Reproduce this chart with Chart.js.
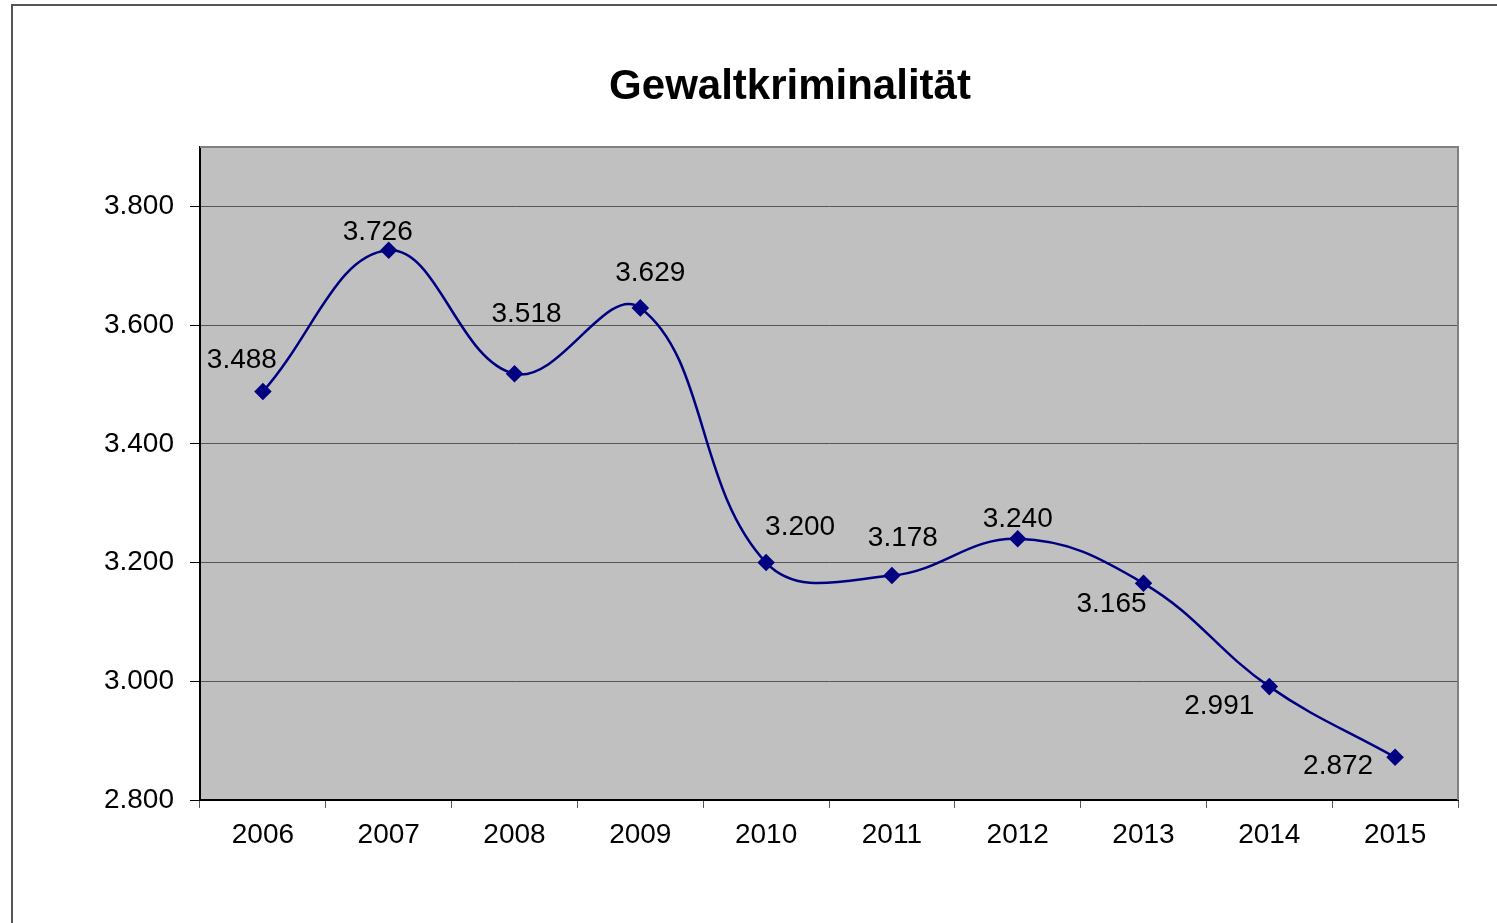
<!DOCTYPE html>
<html>
<head>
<meta charset="utf-8">
<script src="https://cdn.jsdelivr.net/npm/chart.js@4/dist/chart.umd.min.js"></script>
<style>
  html, body { margin: 0; padding: 0; background: #fff; }
  #wrap { width: 1497px; height: 923px; }
</style>
</head>
<body>
<div id="wrap"><canvas id="myChart" width="1497" height="923"></canvas></div>
<script>
var titel = "Gewaltkriminalität";
var jahre = ["2006", "2007", "2008", "2009", "2010", "2011", "2012", "2013", "2014", "2015"];
var faelle = [3488, 3726, 3518, 3629, 3200, 3178, 3240, 3165, 2991, 2872];
var yTicks = [2800, 3000, 3200, 3400, 3600, 3800];

// where Excel put each label, relative to its point
var labelShift = [[-21,-31],[-11,-18],[12,-59],[10,-35],[34,-35],[11,-37],[0,-20],[-32,21],[-50,20],[-57,9]];

var fmt = (v) => v.toLocaleString('de-DE');

var bgPlugin = {
  id: 'bg',
  beforeDraw: function(chart){
    var c = chart.ctx, a = chart.chartArea;
    c.save();
    c.fillStyle = '#fff';
    c.fillRect(0, 0, chart.width, chart.height);
    c.strokeStyle = '#555';
    c.lineWidth = 2;
    c.strokeRect(12, 5, chart.width + 20, chart.height + 20);
    c.fillStyle = '#c0c0c0';
    c.fillRect(a.left, a.top, a.right - a.left, a.bottom - a.top);
    // title, centred on the whole chart box (which runs past the right edge)
    c.fillStyle = '#000';
    c.font = 'bold 42px "Liberation Sans", Arial, sans-serif';
    c.textAlign = 'center';
    c.textBaseline = 'middle';
    c.fillText(titel, 790, 87);
    c.restore();
  },
  beforeDatasetsDraw: function(chart){
    var c = chart.ctx, a = chart.chartArea;
    c.save();
    c.strokeStyle = '#808080';
    c.lineWidth = 2;
    c.beginPath();
    c.moveTo(a.left, a.top);
    c.lineTo(a.right, a.top);
    c.lineTo(a.right, a.bottom);
    c.stroke();
    c.restore();
  }
};

var labelPlugin = {
  id: 'werte',
  afterDatasetsDraw: function(chart){
    var c = chart.ctx;
    var meta = chart.getDatasetMeta(0);
    c.save();
    c.font = '28px "Liberation Sans", Arial, sans-serif';
    c.fillStyle = '#000';
    c.textAlign = 'center';
    c.textBaseline = 'middle';
    meta.data.forEach(function(p, i){
      c.fillText(fmt(faelle[i]), p.x + labelShift[i][0], p.y + labelShift[i][1]);
    });
    c.restore();
  }
};

var ctx = document.getElementById('myChart');

var chart = new Chart(ctx, {
  type: 'line',
  data: {
    labels: jahre,
    datasets: [{
      label: titel,
      data: faelle,
      borderColor: '#000080',
      backgroundColor: '#000080',
      borderWidth: 2.5,
      tension: 0.4,
      pointStyle: 'rectRot',
      pointRadius: 7,
      pointHoverRadius: 7,
      fill: false
    }]
  },
  options: {
    responsive: false,
    animation: false,
    devicePixelRatio: 1,
    layout: { padding: { left: 0, right: 39, top: 147, bottom: 0 } },
    plugins: {
      legend: { display: false },
      tooltip: { enabled: false },
      title: { display: false }
    },
    scales: {
      x: {
        offset: true,
        grid: { offset: true, drawOnChartArea: false, tickLength: 8, color: '#555', tickColor: '#555' },
        border: { color: '#000', width: 2 },
        ticks: {
          color: '#000',
          padding: 10,
          maxRotation: 0,
          font: { family: '"Liberation Sans", Arial, sans-serif', size: 28 }
        },
        afterFit: function(s){ s.height = 123; }
      },
      y: {
        min: 2800,
        max: 3900,
        grid: { color: '#555', lineWidth: 1, tickLength: 10, tickColor: '#000' },
        border: { color: '#000', width: 2 },
        ticks: {
          stepSize: 200,
          color: '#000',
          padding: 16,
          font: { family: '"Liberation Sans", Arial, sans-serif', size: 28 },
          callback: (v) => fmt(v)
        },
        afterBuildTicks: function(s){
          s.ticks = yTicks.map((v) => ({ value: v }));
        },
        afterFit: function(s){ s.width = 200; }
      }
    }
  },
  plugins: [bgPlugin, labelPlugin]
});
</script>
</body>
</html>
